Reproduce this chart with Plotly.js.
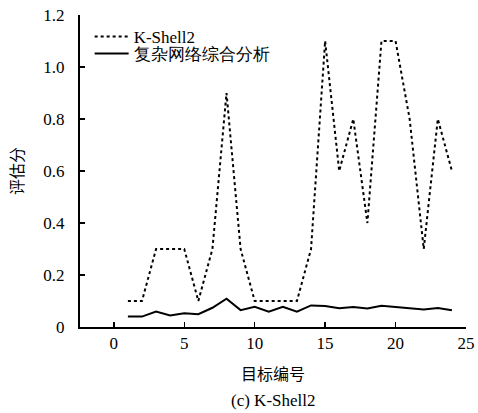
<!DOCTYPE html>
<html><head><meta charset="utf-8">
<script src="https://cdn.plot.ly/plotly-3.0.1.min.js"></script>
<style>html,body{margin:0;padding:0;background:#fff}</style>
</head><body>
<div id="chart" style="width:478px;height:413px"></div>
<script>
const targets = [1,2,3,4,5,6,7,8,9,10,11,12,13,14,15,16,17,18,19,20,21,22,23,24];
const kshell2 = [0.1,0.1,0.3,0.3,0.3,0.1,0.3,0.9,0.3,0.1,0.1,0.1,0.1,0.3,1.1,0.6,0.8,0.4,1.1,1.1,0.8,0.3,0.8,0.6];
const complexNet = [0.04,0.04,0.059,0.044,0.053,0.049,0.074,0.109,0.065,0.078,0.059,0.078,0.059,0.083,0.081,0.072,0.077,0.071,0.082,0.078,0.072,0.067,0.073,0.064];
const yTickVals = [0,0.2,0.4,0.6,0.8,1.0,1.2];
const yTickText = ['0','0.2','0.4','0.6','0.8','1.0','1.2'];
const xTickVals = [0,5,10,15,20,25];
const seriesNames = ['K-Shell2','复杂网络综合分析'];

const serif = 'Liberation Serif';
const cjk = 'Noto Sans CJK SC';
const traces = [
  {x: targets, y: kshell2, name: seriesNames[0], mode: 'lines', legend: 'legend',
   line: {color: '#000', width: 2, dash: '3px,3px'}},
  {x: targets, y: complexNet, name: seriesNames[1], mode: 'lines', legend: 'legend2',
   line: {color: '#000', width: 2}}
];
const legBase = {xanchor: 'left', yanchor: 'middle', bgcolor: 'rgba(0,0,0,0)',
                 font: {family: serif, size: 17, color: '#000'}, itemwidth: 34};
const layout = {
  width: 478, height: 413,
  margin: {l: 80, r: 12, t: 15, b: 86},
  paper_bgcolor: '#fff', plot_bgcolor: '#fff',
  font: {family: serif, size: 17, color: '#000'},
  showlegend: true,
  legend: Object.assign({}, legBase, {x: 0.025, y: 0.93}),
  legend2: Object.assign({}, legBase, {x: 0.025, y: 0.875}),
  xaxis: {range: [-2.4, 25], tickvals: xTickVals, showgrid: false, zeroline: false,
          showline: true, linecolor: '#000', linewidth: 2, ticks: 'inside', ticklen: 5, tickwidth: 1.5,
          tickcolor: '#000', tickfont: {family: serif, size: 17},
          title: {text: '目标编号', font: {family: cjk, size: 16}, standoff: 16}},
  yaxis: {range: [0, 1.2], tickvals: yTickVals, ticktext: yTickText, showgrid: false, zeroline: false,
          showline: true, linecolor: '#000', linewidth: 2, ticks: 'inside', ticklen: 5, tickwidth: 1.5,
          tickcolor: '#000', tickfont: {family: serif, size: 17}, ticklabelstandoff: 10,
          title: {text: '评估分', font: {family: cjk, size: 16}, standoff: 16}},
  annotations: [{text: '(c) K-Shell2', xref: 'paper', yref: 'paper', x: 0.5, y: -0.2,
                 xanchor: 'center', yanchor: 'top', showarrow: false,
                 font: {family: serif, size: 17}}]
};
Plotly.newPlot('chart', traces, layout, {displayModeBar: false, staticPlot: true});
</script>
</body></html>
